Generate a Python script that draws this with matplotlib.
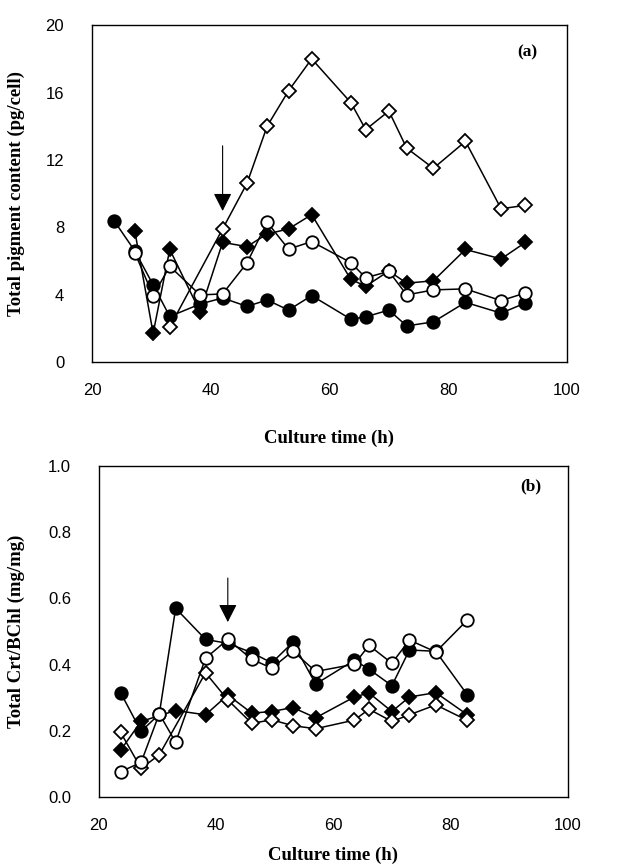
#!/usr/bin/env python3
"""
Figura de dos paneles: contenido total de pigmentos (a) y relación Crt/BChl (b)
frente al tiempo de cultivo.
"""

import matplotlib
matplotlib.use("Agg")
import matplotlib.pyplot as plt

# ---------------- Datos panel (a) ----------------
t_a_fc = [23.7, 27.2, 30.3, 33.1, 38.2, 42.0, 46.1, 49.5, 53.1, 57.0,
          63.6, 66.1, 70.0, 73.0, 77.5, 82.9, 88.9, 93.0]
a_filled_circle = [8.4, 6.6, 4.58, 2.7, 3.44, 3.8, 3.3, 3.68, 3.08, 3.94,
                   2.54, 2.68, 3.08, 2.14, 2.38, 3.54, 2.9, 3.5]

t_a_oc = [27.2, 30.3, 33.1, 38.2, 42.0, 46.1, 49.5, 53.1, 57.0,
          63.6, 66.1, 70.0, 73.0, 77.5, 82.9, 88.9, 93.0]
a_open_circle = [6.5, 3.94, 5.68, 3.98, 4.04, 5.88, 8.3, 6.7, 7.15,
                 5.9, 5.0, 5.38, 3.98, 4.28, 4.34, 3.64, 4.1]

t_a_fd = [27.2, 30.3, 33.1, 38.2, 42.0, 46.1, 49.5, 53.1, 57.0,
          63.6, 66.1, 70.0, 73.0, 77.5, 82.9, 88.9, 93.0]
a_filled_diamond = [7.8, 1.7, 6.68, 2.98, 7.1, 6.85, 7.6, 7.9, 8.75,
                    4.9, 4.5, 5.4, 4.68, 4.82, 6.68, 6.12, 7.1]

t_a_od = [33.1, 42.0, 46.1, 49.5, 53.1, 57.0,
          63.6, 66.1, 70.0, 73.0, 77.5, 82.9, 88.9, 93.0]
a_open_diamond = [2.08, 7.9, 10.6, 14.0, 16.1, 18.0,
                  15.4, 13.8, 14.9, 12.7, 11.5, 13.1, 9.1, 9.3]

# ---------------- Datos panel (b) ----------------
t_b_fc = [23.7, 27.2, 30.3, 33.1, 38.2, 42.0, 46.1, 49.5, 53.1, 57.0,
          63.6, 66.1, 70.0, 73.0, 77.5, 82.9]
b_filled_circle = [0.315, 0.198, 0.25, 0.57, 0.476, 0.464, 0.436, 0.405, 0.467, 0.341,
                   0.413, 0.386, 0.336, 0.444, 0.44, 0.308]

t_b_oc = t_b_fc
b_open_circle = [0.076, 0.104, 0.251, 0.165, 0.419, 0.476, 0.416, 0.389, 0.441, 0.379,
                 0.401, 0.458, 0.404, 0.474, 0.438, 0.535]

t_b_fd = [23.7, 27.2, 33.1, 38.2, 42.0, 46.1, 49.5, 53.1, 57.0,
          63.6, 66.1, 70.0, 73.0, 77.5, 82.9]
b_filled_diamond = [0.141, 0.228, 0.261, 0.248, 0.308, 0.253, 0.258, 0.27, 0.239,
                    0.302, 0.314, 0.258, 0.302, 0.315, 0.248]

t_b_od = [23.7, 27.2, 30.3, 38.2, 42.0, 46.1, 49.5, 53.1, 57.0,
          63.6, 66.1, 70.0, 73.0, 77.5, 82.9]
b_open_diamond = [0.195, 0.086, 0.127, 0.375, 0.293, 0.222, 0.233, 0.215, 0.206,
                  0.232, 0.265, 0.228, 0.248, 0.278, 0.231]

arrow_time = 42.0

SANS = "Liberation Sans"
SERIF = "Liberation Serif"


def draw_series(ax, t, y, marker, filled, ms, z):
    """Dibuja una serie con línea negra y marcador lleno o vacío"""
    ax.plot(t, y, color="black", lw=1.1, marker=marker, ms=ms,
            mfc="black" if filled else "white", mec="black", mew=1.3,
            zorder=z, clip_on=False)


def style_axis(ax, ylim, yticks, yfmt, ylabel, xlabel_y, ylabel_x):
    ax.set_xlim(20, 100)
    ax.set_ylim(*ylim)
    ax.set_xticks([20, 40, 60, 80, 100])
    ax.set_yticks(yticks)
    ax.set_yticklabels([yfmt.format(v) for v in yticks])
    ax.tick_params(direction="in", length=0, labelsize=12)
    ax.tick_params(axis="x", pad=15)
    ax.tick_params(axis="y", pad=20)
    for lab in ax.get_xticklabels() + ax.get_yticklabels():
        lab.set_fontfamily(SANS)
    for sp in ax.spines.values():
        sp.set_linewidth(1.0)
    ax.set_xlabel("Culture time (h)", fontfamily=SERIF, fontweight="bold", fontsize=13.5)
    ax.set_ylabel(ylabel, fontfamily=SERIF, fontweight="bold", fontsize=13.5)
    ax.xaxis.set_label_coords(0.5, xlabel_y)
    ax.yaxis.set_label_coords(ylabel_x, 0.5)


fig = plt.figure(figsize=(6.3, 8.68), dpi=100)

# Panel (a)
ax1 = fig.add_axes([0.146, 0.583, 0.754, 0.388])
draw_series(ax1, t_a_fc, a_filled_circle, "o", True, 9, 3)
draw_series(ax1, t_a_fd, a_filled_diamond, "D", True, 7, 4)
draw_series(ax1, t_a_od, a_open_diamond, "D", False, 7, 5)
draw_series(ax1, t_a_oc, a_open_circle, "o", False, 9, 6)
ax1.annotate("", xy=(arrow_time, 8.8), xytext=(arrow_time, 13.0),
             arrowprops=dict(arrowstyle="-|>,head_length=0.55,head_width=0.28",
                             color="black", lw=0.8, mutation_scale=20))
ax1.text(93.3, 18.4, "(a)", fontfamily=SERIF, fontweight="bold", fontsize=12.5,
         ha="center", va="center")
style_axis(ax1, (0, 20), [0, 4, 8, 12, 16, 20], "{:g}",
           "Total pigment content (pg/cell)", -0.2, -0.141)

# Panel (b)
ax2 = fig.add_axes([0.157, 0.082, 0.744, 0.381])
draw_series(ax2, t_b_fc, b_filled_circle, "o", True, 9, 3)
draw_series(ax2, t_b_fd, b_filled_diamond, "D", True, 7, 4)
draw_series(ax2, t_b_od, b_open_diamond, "D", False, 7, 5)
draw_series(ax2, t_b_oc, b_open_circle, "o", False, 9, 6)
ax2.annotate("", xy=(arrow_time, 0.52), xytext=(arrow_time, 0.67),
             arrowprops=dict(arrowstyle="-|>,head_length=0.55,head_width=0.28",
                             color="black", lw=0.8, mutation_scale=20))
ax2.text(93.8, 0.94, "(b)", fontfamily=SERIF, fontweight="bold", fontsize=12.5,
         ha="center", va="center")
style_axis(ax2, (0, 1.0), [0.0, 0.2, 0.4, 0.6, 0.8, 1.0], "{:.1f}",
           "Total Crt/BChl (mg/mg)", -0.152, -0.158)

fig.savefig("out.png", dpi=100, facecolor="white")
